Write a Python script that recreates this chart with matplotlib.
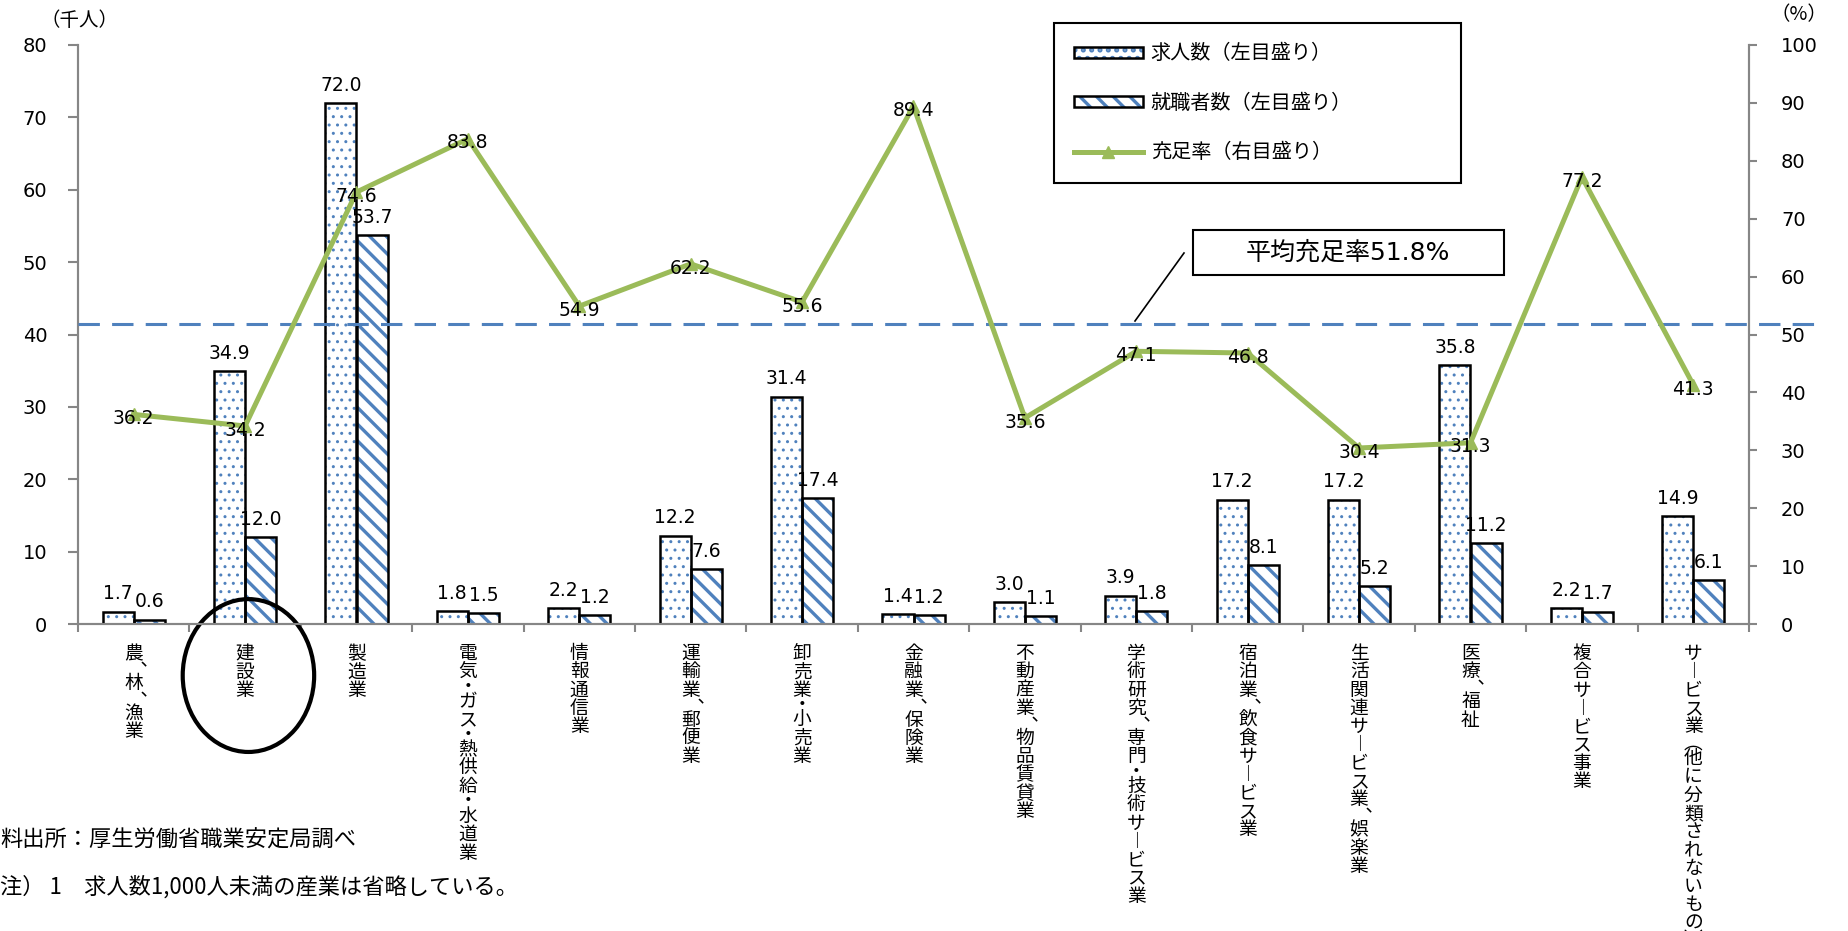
import numpy as np
import matplotlib
matplotlib.use("Agg")
import matplotlib.pyplot as plt
import matplotlib.transforms as mtransforms
from matplotlib.patches import Rectangle, Ellipse
from matplotlib.lines import Line2D
from matplotlib.legend_handler import HandlerTuple

plt.rcParams['font.family'] = ['DejaVu Sans', 'Noto Sans CJK JP']
plt.rcParams['hatch.linewidth'] = 2.4

# 産業別 求人数・就職者数（千人）と充足率（%）
industries = ["農、林、漁業", "建設業", "製造業", "電気・ガス・熱供給・水道業", "情報通信業",
              "運輸業、郵便業", "卸売業・小売業", "金融業、保険業", "不動産業、物品賃貸業",
              "学術研究、専門・技術サービス業", "宿泊業、飲食サービス業",
              "生活関連サービス業、娯楽業", "医療、福祉", "複合サービス事業",
              "サービス業（他に分類されないもの）"]
openings = [1.7, 34.9, 72.0, 1.8, 2.2, 12.2, 31.4, 1.4, 3.0, 3.9, 17.2, 17.2, 35.8, 2.2, 14.9]
placements = [0.6, 12.0, 53.7, 1.5, 1.2, 7.6, 17.4, 1.2, 1.1, 1.8, 8.1, 5.2, 11.2, 1.7, 6.1]
fill_rate = [36.2, 34.2, 74.6, 83.8, 54.9, 62.2, 55.6, 89.4, 35.6, 47.1, 46.8, 30.4, 31.3, 77.2, 41.3]
avg_rate = 51.8

W, H = 1849, 931
gray = '#868686'
blue = '#4F81BD'
green = '#9BBB59'
jp = ['Noto Sans CJK JP', 'DejaVu Sans']

# 縦書き用の字形と、詰めて組む約物
VERT = {'、': '︑', 'ー': '︱', '（': '︵', '）': '︶'}
HALF = {'︑': 0.6, '・': 0.6, '︵': 0.7, '︶': 0.7}


def draw_vertical(ax, xi, y0, s, trans, fs=13.5, em=14.0):
    # 一文字ずつ上から積む（単位はポイント、em は字送りの基準）
    pos = 0.0
    for c in s:
        c = VERT.get(c, c)
        step = HALF.get(c, 0.94)
        if c == '︑':
            dx, base = 0.22 * em, pos + 0.88 * em
        elif c == '・':
            dx, base = 0, pos + 0.68 * em
        elif c in ('︵', '︶'):
            dx, base = 0, pos + 0.78 * em
        else:
            dx, base = 0, pos + 0.88 * em
        ax.annotate(c, (xi, y0), xycoords=trans, xytext=(dx, -base),
                    textcoords='offset points', ha='center', va='baseline',
                    fontsize=fs, family=jp, annotation_clip=False)
        pos += step * em


fig = plt.figure(figsize=(W / 100, H / 100), dpi=100)
ax = fig.add_axes([78 / W, 1 - 624 / H, (1749 - 78) / W, (624 - 45) / H])
ax2 = ax.twinx()

x = np.arange(len(industries))
w = 0.28

# 棒：模様の層と黒枠の層を重ねる
with plt.rc_context({'hatch.linewidth': 1.0}):
    b1 = ax.bar(x - w / 2, openings, w, color='white', edgecolor=blue, linewidth=0,
                hatch='..', zorder=2)
for p in b1:
    if hasattr(p, 'set_hatch_linewidth'):
        p.set_hatch_linewidth(1.0)
b1o = ax.bar(x - w / 2, openings, w, fill=False, edgecolor='black', linewidth=1.8, zorder=3)
b2 = ax.bar(x + w / 2, placements, w, color='white', edgecolor=blue, linewidth=0,
            hatch='\\\\', zorder=2)
b2o = ax.bar(x + w / 2, placements, w, fill=False, edgecolor='black', linewidth=1.8, zorder=3)

for xi, v in zip(x - w / 2, openings):
    ax.annotate(f'{v:.1f}', (xi, v), xytext=(0, 6), textcoords='offset points',
                ha='center', va='bottom', fontsize=13.5, zorder=5)
for xi, v in zip(x + w / 2, placements):
    ax.annotate(f'{v:.1f}', (xi, v), xytext=(0, 6), textcoords='offset points',
                ha='center', va='bottom', fontsize=13.5, zorder=5)

# 平均充足率（破線）
ax2.plot([-0.5, 15.15], [avg_rate, avg_rate], ls=(0, (7, 4)), color=blue, lw=2.2,
         clip_on=False, zorder=3)

line, = ax2.plot(x, fill_rate, color=green, lw=3.6, marker='^', ms=9, zorder=4)
for xi, r in zip(x, fill_rate):
    ax2.annotate(f'{r:.1f}', (xi, r), xytext=(0, -3), textcoords='offset points',
                 ha='center', va='center', fontsize=13.5, zorder=6)

ax.set_xlim(-0.5, 14.5)
ax.set_ylim(0, 80)
ax.set_yticks(range(0, 81, 10))
ax2.set_ylim(0, 100)
ax2.set_yticks(range(0, 101, 10))
ax.set_xticks(np.arange(-0.5, 15, 1))
ax.set_xticklabels([])
ax.tick_params(axis='x', length=6, width=1.5, color=gray)
ax.tick_params(axis='y', length=7, width=1.5, color=gray, pad=15, labelsize=14)
ax2.tick_params(axis='y', length=6, width=1.5, color=gray, pad=17, labelsize=14)

for a in (ax, ax2):
    a.spines['top'].set_visible(False)
    for s in ('left', 'right', 'bottom'):
        a.spines[s].set_color(gray)
        a.spines[s].set_linewidth(1.5)

# 産業名（縦書き）
trans = mtransforms.blended_transform_factory(ax.transData, ax.transAxes)
for xi, name in zip(x, industries):
    draw_vertical(ax, xi, -0.031, name, trans)

# 建設業を囲む楕円
ax.add_patch(Ellipse((1.03, -0.089), 1.18, 0.264, transform=trans, fill=False,
                     edgecolor='black', lw=3, clip_on=False, zorder=10))

# 凡例
leg = fig.legend([(b1[0], b1o[0]), (b2[0], b2o[0]), line],
                 ['求人数（左目盛り）', '就職者数（左目盛り）', '充足率（右目盛り）'],
                 handler_map={tuple: HandlerTuple(ndivide=1)},
                 loc='upper left', bbox_to_anchor=(1054 / W, 0.808, 407 / W, 0.167),
                 mode='expand', borderaxespad=0, prop={'family': jp, 'size': 14.5},
                 handlelength=3.4, handleheight=0.45, handletextpad=0.4,
                 labelspacing=1.4, borderpad=1.0, fancybox=False, framealpha=1)
leg.get_frame().set_edgecolor('black')
leg.get_frame().set_linewidth(1.5)

# 平均充足率の吹き出し
fig.add_artist(Rectangle((1193 / W, 1 - 275 / H), 311 / W, 45 / H, transform=fig.transFigure,
                         facecolor='white', edgecolor='black', lw=1.5))
fig.text(1348 / W, 1 - 252.5 / H, '平均充足率51.8%', ha='center', va='center', fontsize=18)
fig.add_artist(Line2D([1184 / W, 1135 / W], [1 - 253 / H, 1 - 321 / H],
                      transform=fig.transFigure, color='black', lw=1.2))

# 軸の単位
fig.text(40 / W, 1 - 20 / H, '（千人）', va='center', fontsize=14, family=jp)
fig.text(1771 / W, 1 - 15 / H, '（%）', va='center', fontsize=14, family=jp)

# 注記
fig.text(0, 1 - 840 / H, '料出所：厚生労働省職業安定局調べ', va='center', fontsize=16, family=jp)
fig.text(0, 1 - 887 / H, '注） 1　求人数1,000人未満の産業は省略している。', va='center',
         fontsize=16, family=jp)

fig.savefig('out.png', dpi=100)
